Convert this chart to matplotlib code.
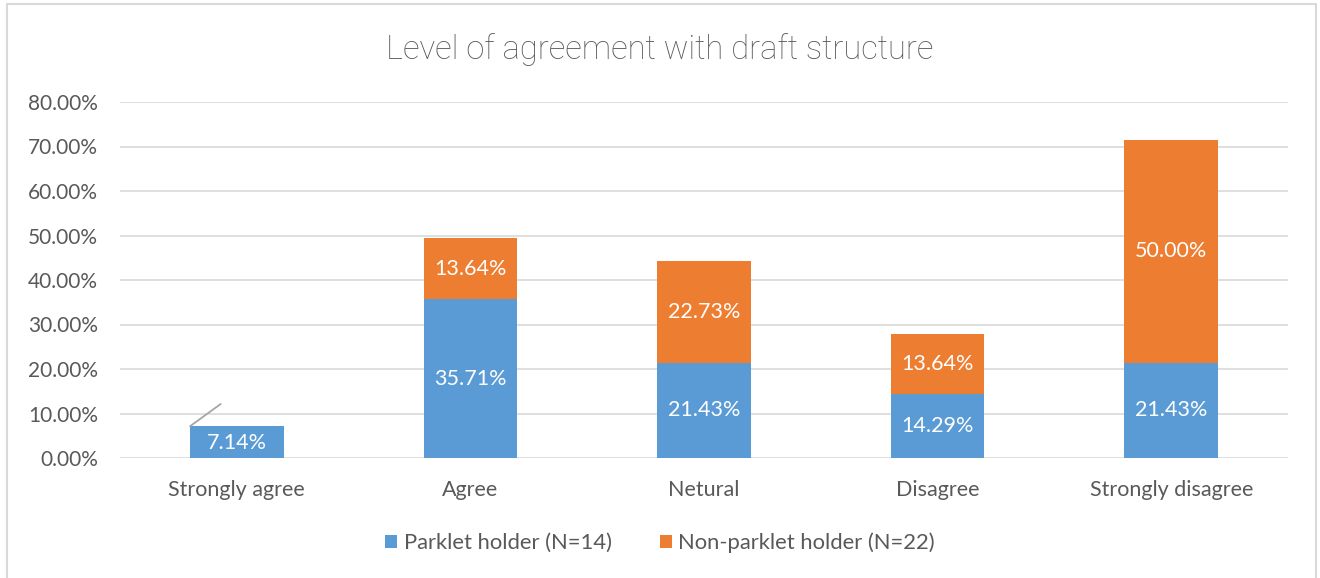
import numpy as np
import matplotlib.pyplot as plt
from matplotlib.patches import Rectangle
from matplotlib.ticker import FuncFormatter

# Dados do gráfico
categorias = ['Strongly agree', 'Agree', 'Netural', 'Disagree', 'Strongly disagree']
parklet = [7.14, 35.71, 21.43, 14.29, 21.43]
nao_parklet = [0.0, 13.64, 22.73, 13.64, 50.00]
series = ['Parklet holder (N=14)', 'Non-parklet holder (N=22)']
titulo = 'Level of agreement with draft structure'

azul = '#5b9bd5'
laranja = '#ed7d31'
cinza = '#595959'
grade = '#d9d9d9'
fs = 15.5

plt.rcParams['font.family'] = ['Lato', 'DejaVu Sans']

fig = plt.figure(figsize=(13.2, 5.78), dpi=100)
ax = fig.add_axes([120 / 1320, 120 / 578, 1168 / 1320, 356 / 578])

# Moldura do gráfico
fig.patches.append(Rectangle((7 / 1320, -0.05), 1309 / 1320, 1 - 4 / 578 + 0.05,
                             transform=fig.transFigure, fill=False,
                             edgecolor=grade, linewidth=1.5))

x = np.arange(len(categorias))
larg = 0.40
b1 = ax.bar(x, parklet, larg, color=azul, label=series[0], zorder=3)
b2 = ax.bar(x, nao_parklet, larg, bottom=parklet, color=laranja, label=series[1], zorder=3)

# Rótulos dos dados
for i in range(len(categorias)):
    ax.text(x[i], parklet[i] / 2 if parklet[i] > 10 else parklet[i] / 2 - 0.3,
            f'{parklet[i]:.2f}%', ha='center', va='center', color='white', fontsize=fs, zorder=4)
    if nao_parklet[i] > 0:
        ax.text(x[i], parklet[i] + nao_parklet[i] / 2, f'{nao_parklet[i]:.2f}%',
                ha='center', va='center', color='white', fontsize=fs, zorder=4)
    else:
        # linha de chamada do rótulo zero
        ax.annotate('', xy=(x[i] - larg / 2, parklet[i]), xytext=(22, 16),
                    textcoords='offset points',
                    arrowprops=dict(arrowstyle='-', color='#a5a5a5', lw=1.3, shrinkA=0, shrinkB=0))

ax.set_xlim(-0.5, len(categorias) - 0.5)
ax.set_ylim(0, 80)
ax.set_yticks(np.arange(0, 81, 10))
ax.yaxis.set_major_formatter(FuncFormatter(lambda v, p: f'{v:.2f}%'))
ax.set_xticks(x)
ax.set_xticklabels(categorias)
ax.tick_params(axis='y', length=0, pad=16, labelsize=15, labelcolor=cinza)
ax.tick_params(axis='x', length=0, pad=16, labelsize=fs, labelcolor=cinza)
ax.grid(axis='y', color=grade, linewidth=1.2, zorder=0)
for s in ax.spines.values():
    s.set_visible(False)

fig.text(0.5, 1 - 50 / 578, titulo, ha='center', va='center', fontsize=23.6,
         color=cinza, family=['Roboto', 'DejaVu Sans'], fontweight='light')

fig.legend(handles=[b1, b2], labels=series, loc='center', bbox_to_anchor=(0.5, 1 - 543 / 578),
           ncol=2, frameon=False, fontsize=15.8, labelcolor=cinza, handlelength=0.55,
           handleheight=0.55, handletextpad=0.3, columnspacing=2.2)

plt.savefig('out.png', dpi=100)
